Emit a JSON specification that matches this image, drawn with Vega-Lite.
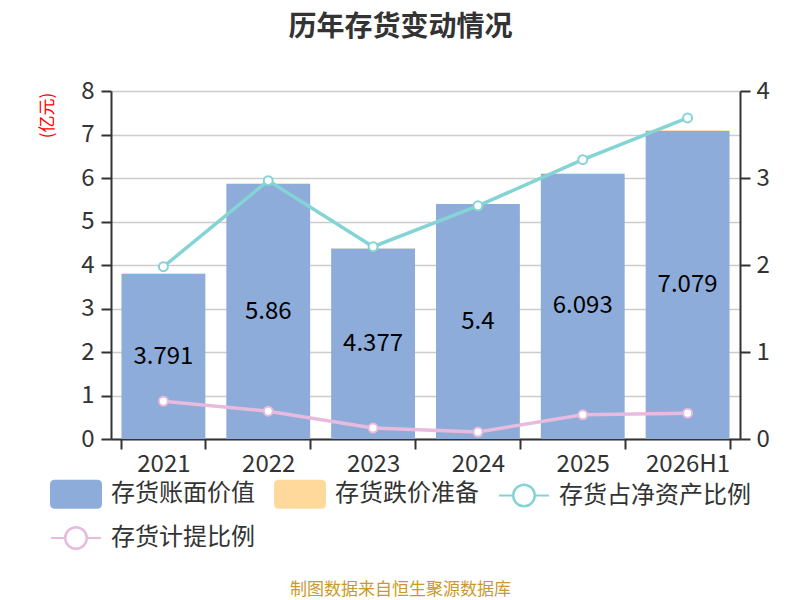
{
  "$schema": "https://vega.github.io/schema/vega-lite/v6.json",
  "width": 629,
  "height": 348,
  "autosize": {"type": "none"},
  "padding": {"left": 111, "top": 91, "right": 60, "bottom": 161},
  "title": {"text": "历年存货变动情况", "fontSize": 28, "fontWeight": "bold", "color": "#333333", "anchor": "middle", "dx": -25, "offset": 37},
  "data": {
    "values": [
      {"year": "2021", "存货账面价值": 3.791, "存货跌价准备": 0.017, "存货占净资产比例": 1.98, "存货计提比例": 0.435},
      {"year": "2022", "存货账面价值": 5.86, "存货跌价准备": 0.019, "存货占净资产比例": 2.97, "存货计提比例": 0.32},
      {"year": "2023", "存货账面价值": 4.377, "存货跌价准备": 0.006, "存货占净资产比例": 2.21, "存货计提比例": 0.126},
      {"year": "2024", "存货账面价值": 5.4, "存货跌价准备": 0.004, "存货占净资产比例": 2.68, "存货计提比例": 0.08},
      {"year": "2025", "存货账面价值": 6.093, "存货跌价准备": 0.017, "存货占净资产比例": 3.21, "存货计提比例": 0.278},
      {"year": "2026H1", "存货账面价值": 7.079, "存货跌价准备": 0.021, "存货占净资产比例": 3.69, "存货计提比例": 0.297}
    ]
  },
  "encoding": {
    "x": {
      "field": "year", "type": "ordinal", "sort": null,
      "scale": {"paddingInner": 0.2, "paddingOuter": 0.1},
      "axis": {
        "labelAngle": 0, "labelFontSize": 24, "labelColor": "#333333", "labelPadding": 3,
        "domainColor": "#333333", "domainWidth": 2, "tickColor": "#333333", "tickWidth": 2, "tickSize": 10,
        "tickBand": "extent", "grid": false,
        "title": "制图数据来自恒生聚源数据库", "titleColor": "#c9992e", "titleFontSize": 17, "titleFontWeight": "normal",
        "titleX": 289, "titleY": 150, "titleAlign": "center", "titleBaseline": "middle"
      }
    }
  },
  "layer": [
    {
      "layer": [
        {
          "transform": [{"fold": ["存货账面价值", "存货跌价准备"]}],
          "mark": {"type": "bar"},
          "encoding": {
            "y": {
              "field": "value", "type": "quantitative", "stack": "zero",
              "scale": {"domain": [0, 8]},
              "axis": {
                "orient": "left", "values": [0, 1, 2, 3, 4, 5, 6, 7, 8],
                "grid": true, "gridColor": "#cccccc", "gridWidth": 1.5,
                "domainColor": "#333333", "domainWidth": 2, "tickColor": "#333333", "tickWidth": 2, "tickSize": 10,
                "labelFontSize": 24, "labelColor": "#333333", "labelPadding": 7,
                "title": "(亿元)", "titleColor": "#ff0000", "titleFontSize": 17, "titleFontWeight": "normal",
                "titleX": -64, "titleY": 24, "titleAngle": -90, "titleAlign": "center", "titleBaseline": "middle"
              }
            },
            "color": {
              "field": "key", "type": "nominal",
              "scale": {
                "domain": ["存货账面价值", "存货跌价准备", "存货占净资产比例", "存货计提比例"],
                "range": ["#8eacda", "#fed99b", "#84d4d6", "#e7bbdd"]
              },
              "legend": {
                "orient": "none", "legendX": -61, "legendY": 377, "direction": "horizontal", "columns": 3,
                "title": null, "labelFontSize": 24, "labelColor": "#333333", "labelOffset": 9, "labelLimit": 300,
                "symbolSize": 2500, "columnPadding": 16, "rowPadding": -3, "symbolStrokeWidth": 2,
                "encode": {
                  "symbols": {
                    "update": {
                      "shape": {"signal": "indexof(['存货账面价值','存货跌价准备'], datum.value) >= 0 ? 'M-0.84,-0.54H0.84Q1,-0.54 1,-0.38V0.38Q1,0.54 0.84,0.54H-0.84Q-1,0.54 -1,0.38V-0.38Q-1,-0.54 -0.84,-0.54Z' : 'M-1,0H-0.44M0.44,0H1M0.44,0A0.44,0.44 0 1 1 -0.44,0A0.44,0.44 0 1 1 0.44,0ZM0.42,0A0.42,0.42 0 1 0 -0.42,0A0.42,0.42 0 1 0 0.42,0Z'"},
                      "stroke": {"signal": "scale('color', datum.value)"},
                      "opacity": {"value": 1},
                      "fillOpacity": {"value": 1}
                    }
                  }
                }
              }
            },
            "order": {"field": "key", "sort": "ascending"}
          }
        },
        {
          "mark": {"type": "text", "fontSize": 24, "color": "#000000"},
          "encoding": {
            "y": {"field": "存货账面价值", "type": "quantitative", "stack": "zero", "bandPosition": 0.5},
            "text": {"field": "存货账面价值", "type": "nominal"}
          }
        }
      ]
    },
    {
      "transform": [{"fold": ["存货占净资产比例", "存货计提比例"]}],
      "mark": {"type": "line", "strokeWidth": 3.5, "point": {"filled": false, "fill": "#ffffff", "size": 80, "strokeWidth": 2}},
      "encoding": {
        "y": {
          "field": "value", "type": "quantitative",
          "scale": {"domain": [0, 4]},
          "axis": {
            "orient": "right", "values": [0, 1, 2, 3, 4], "grid": false,
            "domainColor": "#333333", "domainWidth": 2, "tickColor": "#333333", "tickWidth": 2, "tickSize": 10,
            "labelFontSize": 24, "labelColor": "#333333", "labelPadding": 6, "title": null
          }
        },
        "color": {"field": "key", "type": "nominal"}
      }
    }
  ],
  "resolve": {"scale": {"y": "independent"}},
  "config": {
    "font": "Noto Sans CJK SC",
    "view": {"stroke": null}
  }
}
